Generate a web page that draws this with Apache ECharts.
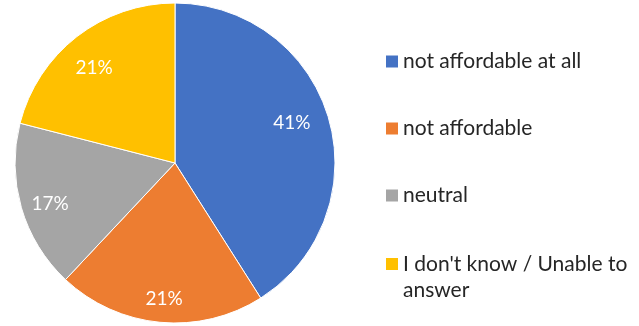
<!DOCTYPE html>
<html>
<head>
<meta charset="utf-8">
<script src="https://cdn.jsdelivr.net/npm/echarts@6/dist/echarts.min.js"></script>
<style>
  html, body { margin: 0; padding: 0; background: #fff; }
  #chart { width: 639px; height: 326px; }
</style>
</head>
<body>
<div id="chart"></div>
<script>
// Survey answers on affordability, share of respondents (%)
const categories = [
  'not affordable at all',
  'not affordable',
  'neutral',
  "I don't know / Unable to answer"
];
const shares = [41, 21, 17, 21];
const colors = ['#4472C4', '#ED7D31', '#A5A5A5', '#FFC000'];

const FONT = 'Lato';

// small per-slice nudges so each percentage sits where a best-fit label would
const labelNudge = [[-5, -5], [1, 9], [-3, 5], [-3, 5]];

const pieData = categories.map((name, i) => ({
  name: name,
  value: shares[i],
  itemStyle: { color: colors[i] }
}));

const chart = echarts.init(document.getElementById('chart'), null, { renderer: 'canvas' });

const legendText = {
  fontFamily: FONT,
  fontSize: 21,
  color: '#262626',
  lineHeight: 26
};

const legendBase = {
  orient: 'vertical',
  left: 386,
  padding: 0,
  itemWidth: 12,
  itemHeight: 12,
  icon: 'rect',
  selectedMode: false,
  itemStyle: { borderWidth: 0 },
  textStyle: legendText
};

chart.setOption({
  animation: false,
  legend: [
    Object.assign({}, legendBase, {
      // first three entries
      top: 48.5,
      itemGap: 41,
      data: categories.slice(0, 3)
    }),
    Object.assign({}, legendBase, {
      // last entry wraps onto a second line; the empty leading line keeps
      // the icon level with the first line of text
      top: 225,
      data: [categories[3]],
      formatter: () => "\nI don't know / Unable to\nanswer"
    })
  ],
  series: [
    {
      type: 'pie',
      center: [175, 163],
      radius: [0, 160],
      startAngle: 90,
      clockwise: true,
      silent: true,
      data: pieData,
      label: { show: false },
      labelLine: { show: false },
      itemStyle: { borderColor: '#ffffff', borderWidth: 1 }
    },
    {
      // transparent ring carrying the percentage labels
      type: 'pie',
      center: [175, 163],
      radius: [88, 160],
      startAngle: 90,
      clockwise: true,
      silent: true,
      legendHoverLink: false,
      data: categories.map((name, i) => ({
        name: name,
        value: shares[i],
        label: { offset: labelNudge[i] }
      })),
      itemStyle: { color: 'rgba(0,0,0,0)' },
      label: {
        show: true,
        position: 'inside',
        formatter: p => p.value + '%',
        color: '#ffffff',
        fontFamily: FONT,
        fontSize: 19
      },
      labelLine: { show: false }
    }
  ]
});
</script>
</body>
</html>
